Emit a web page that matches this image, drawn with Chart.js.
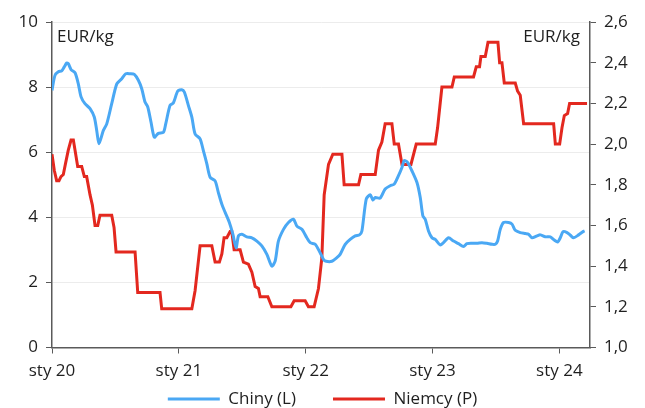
<!DOCTYPE html>
<html>
<head>
<meta charset="utf-8">
<script src="https://cdn.jsdelivr.net/npm/chart.js@4.4.1/dist/chart.umd.min.js"></script>
<style>
  html, body { margin: 0; padding: 0; background: #ffffff; }
  #wrap { width: 645px; height: 408px; }
</style>
</head>
<body>
<div id="wrap"><canvas id="chart" width="645" height="408"></canvas></div>
<script>
// Months elapsed since January 2020
const chinaMonths = [0, 0.28, 0.6, 0.92, 1.16, 1.39, 1.54, 1.8, 2.18, 2.49, 2.75, 3.12, 3.6, 4.0, 4.23, 4.45, 4.86, 5.18, 5.65, 6.13, 6.6, 6.98, 7.38, 7.79, 8.17, 8.49, 8.8, 9.06, 9.37, 9.68, 10.06, 10.54, 10.76, 11.17, 11.48, 11.9, 12.28, 12.52, 12.9, 13.23, 13.54, 14.01, 14.32, 14.65, 14.96, 15.43, 15.74, 16.07, 16.38, 16.78, 17.11, 17.42, 17.64, 17.96, 18.43, 18.91, 19.38, 19.85, 20.33, 20.8, 21.11, 21.42, 21.9, 22.37, 22.84, 23.17, 23.64, 24.11, 24.43, 24.9, 25.37, 25.68, 25.94, 26.48, 26.95, 27.26, 27.74, 28.21, 28.69, 29.09, 29.32, 29.73, 30.11, 30.36, 30.58, 31.05, 31.52, 32.0, 32.38, 32.78, 33.11, 33.32, 33.64, 34.05, 34.53, 34.84, 35.09, 35.31, 35.62, 35.95, 36.26, 36.73, 37.04, 37.52, 37.99, 38.46, 38.94, 39.26, 39.73, 40.21, 40.68, 41.15, 41.63, 41.94, 42.16, 42.41, 42.72, 43.2, 43.52, 43.83, 44.3, 44.78, 45.09, 45.41, 45.89, 46.2, 46.67, 47.14, 47.52, 47.84, 48.09, 48.35, 48.73, 49.04, 49.35, 49.82, 50.24, 50.39];
// China, EUR/kg (left axis)
const chinaValues = [7.9, 8.36, 8.47, 8.5, 8.62, 8.74, 8.72, 8.54, 8.44, 8.1, 7.7, 7.49, 7.34, 7.08, 6.67, 6.26, 6.67, 6.87, 7.49, 8.1, 8.26, 8.41, 8.41, 8.39, 8.21, 7.95, 7.54, 7.39, 6.92, 6.46, 6.58, 6.61, 6.87, 7.44, 7.51, 7.88, 7.92, 7.85, 7.44, 7.08, 6.56, 6.41, 6.05, 5.64, 5.23, 5.12, 4.76, 4.4, 4.15, 3.84, 3.48, 3.06, 3.43, 3.48, 3.4, 3.37, 3.27, 3.12, 2.86, 2.5, 2.65, 3.27, 3.63, 3.84, 3.94, 3.73, 3.63, 3.37, 3.22, 3.17, 2.91, 2.71, 2.65, 2.65, 2.76, 2.86, 3.17, 3.32, 3.43, 3.46, 3.58, 4.56, 4.69, 4.53, 4.61, 4.59, 4.87, 4.97, 5.02, 5.28, 5.53, 5.74, 5.69, 5.43, 5.07, 4.61, 4.04, 3.94, 3.58, 3.37, 3.32, 3.15, 3.22, 3.37, 3.27, 3.19, 3.1, 3.19, 3.2, 3.2, 3.22, 3.2, 3.17, 3.17, 3.27, 3.63, 3.84, 3.84, 3.79, 3.6, 3.53, 3.5, 3.48, 3.37, 3.43, 3.46, 3.4, 3.4, 3.3, 3.24, 3.37, 3.56, 3.53, 3.45, 3.37, 3.46, 3.56, 3.58];

const germanyMonths = [0, 0.22, 0.44, 0.66, 0.85, 1.07, 1.3, 1.54, 1.8, 2.02, 2.18, 2.43, 2.81, 3.06, 3.28, 3.6, 3.82, 4.07, 4.33, 4.54, 5.65, 5.87, 6.06, 7.86, 8.11, 10.22, 10.38, 13.23, 13.54, 14.01, 15.12, 15.43, 15.84, 16.07, 16.28, 16.54, 16.85, 17.01, 17.23, 17.8, 18.11, 18.58, 18.91, 19.22, 19.53, 19.69, 20.42, 20.8, 22.6, 22.91, 23.95, 24.26, 24.8, 25.21, 25.53, 25.75, 26.16, 26.57, 27.43, 27.64, 29.0, 29.22, 30.58, 30.89, 31.21, 31.52, 32.16, 32.38, 32.78, 33.11, 33.96, 34.46, 36.26, 36.48, 36.89, 37.84, 38.06, 39.88, 40.14, 40.45, 40.58, 40.99, 41.25, 42.19, 42.35, 42.57, 42.79, 43.83, 44.05, 44.3, 44.62, 47.46, 47.62, 48.03, 48.25, 48.47, 48.78, 48.97, 50.62];
// Germany, EUR/kg (right axis)
const germanyValues = [1.95, 1.87, 1.82, 1.82, 1.84, 1.85, 1.91, 1.97, 2.02, 2.02, 1.97, 1.89, 1.89, 1.84, 1.84, 1.75, 1.7, 1.6, 1.6, 1.65, 1.65, 1.59, 1.47, 1.47, 1.27, 1.27, 1.19, 1.19, 1.28, 1.5, 1.5, 1.42, 1.42, 1.46, 1.54, 1.54, 1.57, 1.57, 1.48, 1.48, 1.42, 1.41, 1.37, 1.3, 1.29, 1.25, 1.25, 1.2, 1.2, 1.23, 1.23, 1.2, 1.2, 1.29, 1.44, 1.75, 1.9, 1.95, 1.95, 1.8, 1.8, 1.85, 1.85, 1.97, 2.01, 2.1, 2.1, 2.0, 2.0, 1.9, 1.9, 2.0, 2.0, 2.08, 2.28, 2.28, 2.33, 2.33, 2.38, 2.38, 2.43, 2.43, 2.5, 2.5, 2.4, 2.4, 2.3, 2.3, 2.26, 2.24, 2.1, 2.1, 2.0, 2.0, 2.08, 2.14, 2.15, 2.2, 2.2];

const yearTickValues = [0, 12, 24, 36, 48];
const yearTickLabels = ['sty 20', 'sty 21', 'sty 22', 'sty 23', 'sty 24'];
const seriesNames = ['Chiny (L)', 'Niemcy (P)'];
const unitLabel = 'EUR/kg';

const FONT = '"Open Sans", "DejaVu Sans", sans-serif';
const TEXT = '#1f1f1f';
const AXIS = '#5a5a5a';
const BLUE = '#4aa8f4';
const RED = '#e3281f';

const toPoints = (xs, ys) => xs.map((x, i) => ({ x: x, y: ys[i] }));

// Unit captions in the top corners of the plot area
const unitLabels = {
  id: 'unitLabels',
  afterDatasetsDraw(chart) {
    const { ctx, chartArea: a } = chart;
    ctx.save();
    ctx.font = '17px ' + FONT;
    ctx.fillStyle = TEXT;
    ctx.textBaseline = 'middle';
    ctx.textAlign = 'left';
    ctx.fillText(unitLabel, a.left + 5, a.top + 15);
    ctx.textAlign = 'right';
    ctx.fillText(unitLabel, a.right - 10, a.top + 15);
    ctx.restore();
  }
};

// Pull the legend row up so it sits just under the date labels
const legendOffset = {
  id: 'legendOffset',
  afterLayout(chart) {
    const lg = chart.legend;
    if (lg) { lg.top -= 34; lg.bottom -= 34; }
  }
};

new Chart(document.getElementById('chart'), {
  type: 'line',
  data: {
    datasets: [
      {
        label: seriesNames[0],
        data: toPoints(chinaMonths, chinaValues),
        yAxisID: 'yL',
        borderColor: BLUE,
        backgroundColor: BLUE,
        borderWidth: 3,
        pointRadius: 0,
        tension: 0.25
      },
      {
        label: seriesNames[1],
        data: toPoints(germanyMonths, germanyValues),
        yAxisID: 'yR',
        borderColor: RED,
        backgroundColor: RED,
        borderWidth: 3,
        pointRadius: 0,
        tension: 0
      }
    ]
  },
  options: {
    responsive: false,
    animation: false,
    layout: { padding: { top: 22, left: 0, right: 0, bottom: -43.5 } },
    plugins: {
      tooltip: { enabled: false },
      legend: {
        position: 'bottom',
        labels: {
          font: { family: FONT, size: 17 },
          color: TEXT,
          boxWidth: 52,
          boxHeight: 3,
          padding: 37,
          generateLabels(chart) {
            return chart.data.datasets.map((ds, i) => ({
              text: ds.label,
              fillStyle: ds.borderColor,
              strokeStyle: ds.borderColor,
              lineWidth: 0,
              fontColor: TEXT,
              hidden: false,
              datasetIndex: i
            }));
          }
        }
      }
    },
    scales: {
      x: {
        type: 'linear',
        min: 0,
        max: 50.9,
        afterBuildTicks(scale) {
          scale.ticks = yearTickValues.map(v => ({ value: v }));
        },
        afterFit(scale) { scale.height = 40; },
        ticks: {
          font: { family: FONT, size: 17 },
          color: TEXT,
          padding: 7,
          maxRotation: 0,
          callback(value) {
            const i = yearTickValues.indexOf(value);
            return i >= 0 ? yearTickLabels[i] : '';
          }
        },
        grid: { drawOnChartArea: false, tickLength: 6, color: AXIS, tickColor: AXIS },
        border: { color: AXIS, width: 1.5 }
      },
      yL: {
        position: 'left',
        min: 0,
        max: 10,
        afterFit(scale) { scale.width = 52; },
        ticks: {
          stepSize: 2,
          font: { family: FONT, size: 17 },
          color: TEXT,
          padding: 8
        },
        grid: { color: '#ececec', lineWidth: 1, tickLength: 6, tickColor: AXIS },
        border: { color: AXIS, width: 1.5 }
      },
      yR: {
        position: 'right',
        min: 1.0,
        max: 2.6,
        afterFit(scale) { scale.width = 55; },
        ticks: {
          stepSize: 0.2,
          font: { family: FONT, size: 17 },
          color: TEXT,
          padding: 8,
          callback(value) { return value.toFixed(1).replace('.', ','); }
        },
        grid: { drawOnChartArea: false, tickLength: 6, color: AXIS, tickColor: AXIS },
        border: { color: AXIS, width: 1.5 }
      }
    }
  },
  plugins: [unitLabels, legendOffset]
});
</script>
</body>
</html>
